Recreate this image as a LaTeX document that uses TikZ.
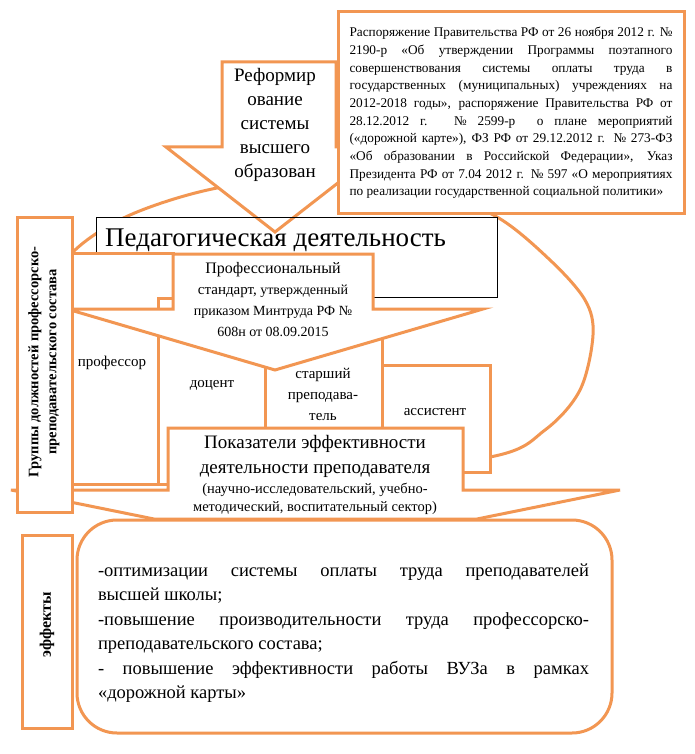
\documentclass[tikz,border=0pt]{standalone}
\usepackage{fontspec}
\setmainfont{Liberation Serif}
\definecolor{orng}{RGB}{242,150,82}
\newcommand{\fs}[2]{\fontsize{#1}{#2}\selectfont}
\begin{document}
\begin{tikzpicture}[x=1pt,y=-1pt,
  ob/.style={draw=orng, line width=3pt, fill=white, line join=miter},
  txt/.style={inner sep=0pt, align=center},
  curveline/.style={draw=orng, line width=3pt}]
\useasboundingbox (0,0) rectangle (695,754);
\fill[white] (0,0) rectangle (695,754);

% big oval (mostly hidden)
\draw[curveline] plot[smooth cycle, tension=0.55] coordinates {(73,252) (130,215) (217,188) (320,178) (430,192) (497,217) (550,260) (585,300) (593,335) (580,390) (545,430) (490,457) (300,478) (120,472) (60,440) (40,380) (45,300)};

% pedagogical activity box
\draw[black, line width=1pt, fill=white] (96,217) rectangle (497,297);

% reform arrow
\draw[ob] (222,62) -- (336,62) -- (336,147) -- (384,147) -- (275,232) -- (166,147) -- (222,147) -- cycle;
\node[txt, font=\fs{19}{24}] (reform) at (275,125) {Реформир\\ование\\системы\\высшего\\образован};

% box outline stays visible over the arrow tip
\draw[black, line width=1pt] (96,217) rectangle (497,297);
\node[inner sep=0pt, anchor=base west, font=\fs{27}{30}] (ped) at (105,246) {Педагогическая деятельность};

% legal box
\draw[ob] (338,12) rectangle (684,213);
\node[inner sep=0pt] (law) at (511,113) {\parbox{323pt}{\fs{13.3}{17.7}Распоряжение Правительства РФ от 26 ноября 2012 г. №\linebreak
2190-р «Об утверждении Программы поэтапного\linebreak
совершенствования системы оплаты труда в\linebreak
государственных (муниципальных) учреждениях на\linebreak
2012-2018 годы», распоряжение Правительства РФ от\linebreak
28.12.2012 г. № 2599-р \ о плане мероприятий\linebreak
(«дорожной карте»), ФЗ РФ от 29.12.2012 г. № 273-ФЗ\linebreak
«Об образовании в Российской Федерации», Указ\linebreak
Президента РФ от 7.04 2012 г. № 597 «О мероприятиях\linebreak
по реализации государственной социальной политики»}};

% staircase of positions
\draw[ob] (72,253) rectangle (173,484);
\draw[ob] (158,298) rectangle (265,484);
\draw[ob] (265,330) rectangle (382,475);
\draw[ob] (382,365) rectangle (490,472);
\node[txt, font=\fs{15}{18}] (prof) at (112,363) {профессор};
\node[txt, font=\fs{15}{18}] (doc) at (212,385) {доцент};
\node[txt, font=\fs{15}{21}] (senior) at (323,394) {старший\\преподава-\\тель};
\node[txt, font=\fs{15}{18}] (asst) at (435,412) {ассистент};

% professional standard callout
\draw[ob] (173,254) -- (373,254) -- (373,309) -- (483,309) -- (275,370) -- (67,309) -- (173,309) -- cycle;
\node[txt, font=\fs{14}{21}] (std) at (273,300) {{\fs{16}{21}Профессиональный}\\{\fs{15}{21}стандарт,} утвержденный\\приказом Минтруда РФ №\\608н от 08.09.2015};

% performance indicators callout
\draw[ob] (11,490) -- (168,490) -- (168,428) -- (463,428) -- (463,490) -- (620,490) -- (477,519) -- (154,519) -- cycle;
\node[txt, font=\fs{19}{25}] (ind) at (315,456) {Показатели эффективности\\деятельности преподавателя};
\node[txt, font=\fs{14.5}{18}] (sect) at (315,499) {(научно-исследовательский, учебно-\\методический, воспитательный сектор)};

% groups vertical box
\draw[ob] (17,217) rectangle (72,512);
\node[txt, rotate=90, font=\bfseries\fs{14.5}{18}] (grp) at (44,362) {Группы должностей профессорско-\\преподавательского состава};

% effects
\draw[ob, rounded corners=40pt] (77,520) rectangle (612,733);
\node[inner sep=0pt] (eff) at (343.5,633) {\parbox{491pt}{\fs{18.5}{24.5}-оптимизации системы оплаты труда преподавателей\linebreak
высшей школы;\par
-повышение производительности труда профессорско-\linebreak
преподавательского состава;\par
- повышение эффективности работы ВУЗа в рамках\linebreak
«дорожной карты»}};

\draw[ob] (22,535) rectangle (72,728);
\node[txt, rotate=90, font=\bfseries\fs{16}{18}] (efflbl) at (47,625) {эффекты};
\end{tikzpicture}
\end{document}
